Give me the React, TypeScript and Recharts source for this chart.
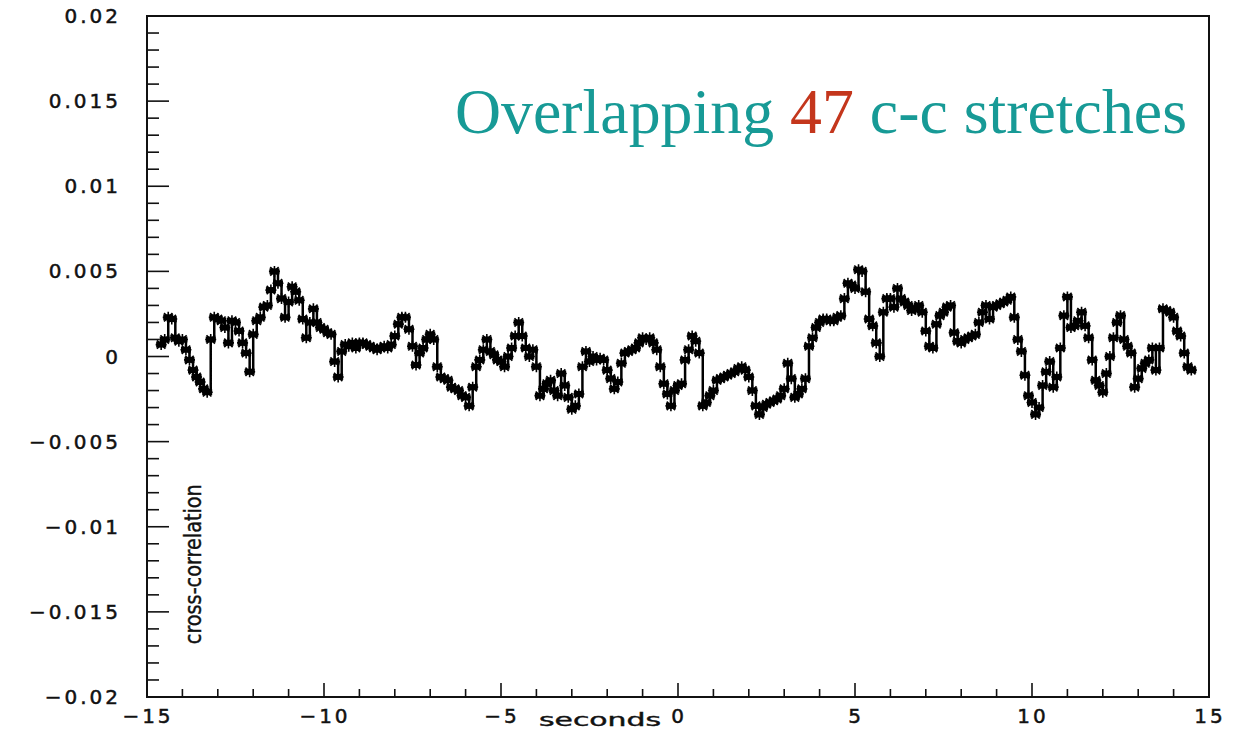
import React from "react";
import { LineChart, Line, XAxis, YAxis, ReferenceArea } from "recharts";

// lag grid of the cross-correlation (seconds)
const lagStart = -14.6;
const lagStep = 0.1;

// cross-correlation values, in units of 1e-3, one per lag step
const corrMilli = [
  // -14.6 .. -14.1
  0.7, 1.0, 2.3, 2.2, 1.1, 0.9,
  // -14.0 .. -13.1
  1.0, 0.4, -0.2, -0.8, -1.2, -1.5, -1.9, -2.1, 1.0, 2.3,
  // -13.0 .. -12.1
  2.2, 2.1, 1.7, 0.8, 2.1, 2.0, 1.5, 0.8, 0.2, -0.9,
  // -12.0 .. -11.1
  1.3, 2.1, 2.3, 2.9, 3.0, 3.9, 5.0, 4.3, 3.4, 2.3,
  // -11.0 .. -10.1
  3.2, 4.1, 3.8, 3.3, 2.2, 1.1, 2.0, 2.8, 2.0, 1.7,
  // -10.0 .. -9.1
  1.6, 1.4, 1.3, -0.3, -1.2, 0.3, 0.7, 0.6, 0.8, 0.5,
  // -9.0 .. -8.1
  0.8, 0.8, 0.7, 0.6, 0.5, 0.4, 0.5, 0.6, 0.5, 0.7,
  // -8.0 .. -7.1
  1.2, 1.9, 2.3, 2.3, 1.6, 0.6, -0.5, 0.2, 0.5, 1.0,
  // -7.0 .. -6.1
  1.3, 1.0, -0.6, -1.2, -1.3, -1.4, -1.8, -1.9, -2.0, -2.3,
  // -6.0 .. -5.1
  -2.4, -2.9, -1.8, -0.6, -0.2, 0.4, 1.0, 0.3, 0.1, -0.2,
  // -5.0 .. -4.1
  -0.3, -0.6, 0.0, 0.5, 1.2, 2.0, 1.2, 0.5, 0.0, 0.4,
  // -4.0 .. -3.1
  -0.6, -2.3, -1.9, -1.6, -1.4, -2.0, -2.3, -1.0, -1.7, -2.4,
  // -3.0 .. -2.1
  -3.1, -2.9, -2.2, -0.6, 0.3, -0.3, 0.0, -0.2, -0.1, -0.2,
  // -2.0 .. -1.1
  -0.8, -1.3, -1.9, -1.5, -0.4, 0.2, 0.3, 0.4, 0.5, 0.8,
  // -1.0 .. -0.1
  1.1, 1.0, 1.1, 0.8, 0.4, -0.6, -1.6, -2.2, -2.9, -2.0,
  // 0.0 .. 0.9
  -1.7, -1.6, -0.2, 0.4, 1.2, 0.9, 0.2, -2.9, -2.7, -2.3,
  // 1.0 .. 1.9
  -2.0, -1.4, -1.3, -1.2, -1.1, -1.0, -0.9, -0.7, -0.6, -0.8,
  // 2.0 .. 2.9
  -1.2, -2.0, -2.9, -3.4, -3.0, -2.8, -2.7, -2.6, -2.5, -2.3,
  // 3.0 .. 3.9
  -1.9, -0.4, -1.3, -2.4, -2.2, -1.9, -1.3, 0.6, 1.1, 1.7,
  // 4.0 .. 4.9
  2.0, 2.2, 2.2, 2.1, 2.1, 2.3, 2.4, 3.4, 4.3, 4.2,
  // 5.0 .. 5.9
  4.0, 5.1, 5.0, 3.8, 2.2, 1.8, 0.8, 0.0, 2.6, 3.4,
  // 6.0 .. 6.9
  3.4, 2.9, 4.0, 3.4, 3.2, 3.0, 2.7, 2.8, 3.0, 2.6,
  // 7.0 .. 7.9
  1.5, 0.6, 0.5, 1.9, 2.4, 2.6, 2.9, 3.0, 1.4, 0.9,
  // 8.0 .. 8.9
  0.8, 1.0, 1.1, 1.2, 1.3, 2.0, 2.6, 3.0, 2.2, 2.9,
  // 9.0 .. 9.9
  3.0, 3.1, 3.2, 3.3, 3.5, 2.3, 1.0, 0.3, -1.1, -2.3,
  // 10.0 .. 10.9
  -2.7, -3.4, -3.0, -1.7, -0.9, -0.3, -1.8, -1.2, 0.5, 2.4,
  // 11.0 .. 11.9
  3.5, 1.7, 1.8, 2.1, 2.6, 1.8, 1.1, -0.2, -1.4, -1.7,
  // 12.0 .. 12.9
  -2.1, -1.0, 0.0, 1.1, 2.0, 2.4, 1.0, 0.6, 0.2, -1.8,
  // 13.0 .. 13.9
  -1.3, -0.7, -0.4, -0.2, 0.5, -0.8, 0.5, 2.8, 2.7, 2.6,
  // 14.0 .. 14.5
  2.3, 1.5, 1.2, 0.2, -0.6, -0.8,
];

const xMajorLabels: Record<string, string> = {
  "-15": "\u221215",
  "-10": "\u221210",
  "-5": "\u22125",
  "0": "0",
  "5": "5",
  "10": "10",
  "15": "15",
};

// keyed by value in thousandths
const yMajorLabels: Record<string, string> = {
  "20": "0.02",
  "15": "0.015",
  "10": "0.01",
  "5": "0.005",
  "0": "0",
  "-5": "\u22120.005",
  "-10": "\u22120.01",
  "-15": "\u22120.015",
  "-20": "\u22120.02",
};

const xTicks = Array.from({ length: 31 }, (_, i) => i - 15);
const yTicks = Array.from({ length: 41 }, (_, i) => (i - 20) / 1000);

const data = corrMilli.map((v, i) => ({
  lag: Math.round((lagStart + i * lagStep) * 10) / 10,
  corr: v / 1000,
}));

const INK = "#111";
const tickFont = {
  fontFamily: "'DejaVu Sans', sans-serif",
  fontSize: 20,
  letterSpacing: 3,
  fill: INK,
  stroke: INK,
  strokeWidth: 0.5,
};

function XTick(props: any) {
  const { x, y, payload } = props;
  const label = xMajorLabels[String(payload.value)];
  return (
    <g>
      <line x1={x} x2={x} y1={y} y2={y - (label ? 14 : 8)} stroke={INK} strokeWidth={1.6} />
      {label && (
        <text x={x + 1} y={y + 26} textAnchor="middle" {...tickFont}>
          {label}
        </text>
      )}
    </g>
  );
}

function YTick(props: any) {
  const { x, y, payload } = props;
  const label = yMajorLabels[String(Math.round(payload.value * 1000))];
  return (
    <g>
      <line x1={x} x2={x + (label ? 22 : 12)} y1={y} y2={y} stroke={INK} strokeWidth={1.6} />
      {label && (
        <text x={x - 26} y={y + 7} textAnchor="end" {...tickFont}>
          {label}
        </text>
      )}
    </g>
  );
}

const renderStar = (p: any) => {
  const { cx, cy, index } = p;
  if (cx == null || cy == null) return <g key={`s${index}`} />;
  return (
    <g key={`s${index}`}>
      <rect x={cx - 5} y={cy - 3} width={10} height={6} fill="#000" />
      <path
        d={`M${cx - 5.5} ${cy}H${cx + 5.5}M${cx} ${cy - 5.5}V${cy + 5.5}M${cx - 4.2} ${cy - 4.2}L${cx + 4.2} ${cy + 4.2}M${cx - 4.2} ${cy + 4.2}L${cx + 4.2} ${cy - 4.2}`}
        stroke="#000"
        strokeWidth={1.6}
      />
    </g>
  );
};

const yLabel = (p: any) => {
  const vb = p.viewBox || { x: 0, y: 16, width: 147, height: 681 };
  const cx = vb.x + vb.width + 46;
  const cy = vb.y + vb.height * 0.805;
  return (
    <text
      x={cx}
      y={cy}
      transform={`rotate(-90 ${cx} ${cy})`}
      textAnchor="middle"
      dominantBaseline="central"
      textLength={160}
      lengthAdjust="spacingAndGlyphs"
      fontFamily="'Liberation Sans Narrow', 'DejaVu Sans Condensed', sans-serif"
      fontSize={23}
      fill={INK}
      stroke={INK}
      strokeWidth={0.4}
    >
      cross-correlation
    </text>
  );
};

const xLabel = (p: any) => {
  const vb = p.viewBox || { x: 147, y: 697, width: 1062, height: 37 };
  return (
    <text
      x={vb.x + 453}
      y={vb.y + 29}
      textAnchor="middle"
      textLength={122}
      lengthAdjust="spacingAndGlyphs"
      fontFamily="'DejaVu Sans', sans-serif"
      fontSize={17}
      fill={INK}
      stroke={INK}
      strokeWidth={0.4}
    >
      seconds
    </text>
  );
};

export default function App() {
  return (
    <div style={{ position: "absolute", left: 0, top: 0, width: 1242, height: 734, background: "#fff" }}>
      <LineChart width={1242} height={734} data={data} margin={{ top: 16, right: 33, bottom: 0, left: 0 }}>
        <XAxis
          dataKey="lag"
          type="number"
          domain={[-15, 15]}
          ticks={xTicks}
          interval={0}
          allowDataOverflow
          height={37}
          tickSize={0}
          tickMargin={0}
          tickLine={false}
          tick={<XTick />}
          axisLine={{ stroke: INK, strokeWidth: 2 }}
          label={xLabel}
        />
        <YAxis
          type="number"
          domain={[-0.02, 0.02]}
          ticks={yTicks}
          interval={0}
          allowDataOverflow
          width={147}
          tickSize={0}
          tickMargin={0}
          tickLine={false}
          tick={<YTick />}
          axisLine={{ stroke: INK, strokeWidth: 2 }}
          label={yLabel}
        />
        <ReferenceArea x1={-15} x2={15} y1={-0.02} y2={0.02} fill="none" stroke={INK} strokeWidth={2} />
        <Line
          type="stepAfter"
          dataKey="corr"
          stroke="#000"
          strokeWidth={2.5}
          dot={renderStar}
          activeDot={false}
          isAnimationActive={false}
        />
      </LineChart>
      <svg width={1242} height={734} style={{ position: "absolute", left: 0, top: 0, pointerEvents: "none" }}>
        <text
          x={455}
          y={133}
          fontFamily="'Liberation Serif', 'Times New Roman', serif"
          fontSize={64}
          textLength={732}
          lengthAdjust="spacingAndGlyphs"
        >
          <tspan fill="#179a96">Overlapping </tspan>
          <tspan fill="#c4361c">47</tspan>
          <tspan fill="#179a96"> c-c stretches</tspan>
        </text>
      </svg>
    </div>
  );
}
